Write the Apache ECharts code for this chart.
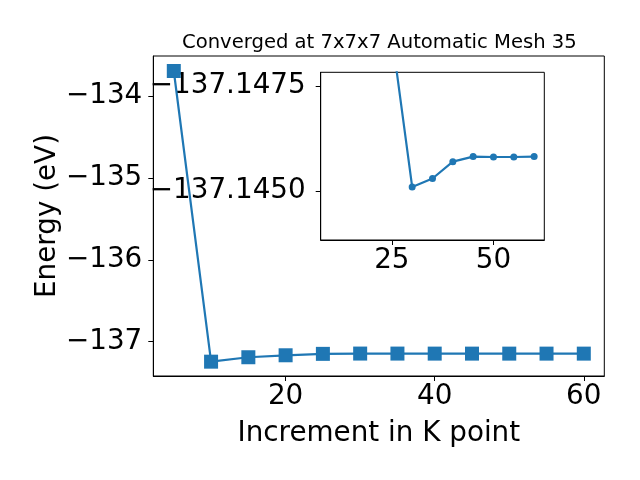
<!DOCTYPE html>
<html>
<head>
<meta charset="utf-8">
<script src="https://cdn.jsdelivr.net/npm/echarts@6/dist/echarts.min.js"></script>
<style>html,body{margin:0;padding:0;background:#fff}#c{width:640px;height:480px}</style>
</head>
<body>
<div id="c"></div>
<script>
// Data
var kpoints = [5, 10, 15, 20, 25, 30, 35, 40, 45, 50, 55, 60];
var energy = [-133.695, -137.244, -137.190, -137.166, -137.1487, -137.1451, -137.1453, -137.1457, -137.14582, -137.14581, -137.14581, -137.14582];
var insetK = [10, 15, 20, 25, 30, 35, 40, 45, 50, 55, 60];
var insetE = energy.slice(1);
var mainXTicks = [20, 40, 60];
var mainYTicks = [-137, -136, -135, -134];
var insetXTicks = [25, 50];
var insetYTicks = [-137.1475, -137.1450];
var titleText = 'Converged at 7x7x7 Automatic Mesh 35';

var FONT = 'DejaVu Sans';
var BLUE = '#1f77b4';
function minus(s) { return String(s).replace('-', '\u2212'); }
function pairs(xs, ys) { return xs.map(function (x, i) { return [x, ys[i]]; }); }

var axisCommon = {
  axisLine: { show: true, onZero: false, lineStyle: { color: '#000', width: 1 } },
  splitLine: { show: false },
};

var chart = echarts.init(document.getElementById('c'), null, { renderer: 'canvas' });
chart.setOption({
  animation: false,
  backgroundColor: '#fff',
  title: {
    text: titleText, left: 177, top: 28,
    textStyle: { fontFamily: FONT, fontSize: 19.6, fontWeight: 'normal', color: '#000' }
  },
  grid: [
    { left: 153.3, top: 56, right: 35.7, bottom: 104, show: true, borderColor: '#000', borderWidth: 1, containLabel: false },
    { left: 320.7, top: 72.3, right: 95.7, bottom: 240, show: true, borderColor: '#000', borderWidth: 1, backgroundColor: '#fff', containLabel: false }
  ],
  xAxis: [
    Object.assign({}, axisCommon, {
      gridIndex: 0, type: 'value', min: 2.25, max: 62.75,
      name: 'Increment in K point', nameLocation: 'middle', nameGap: 44, nameMoveOverlap: false,
      nameTextStyle: { fontFamily: FONT, fontSize: 27.8, color: '#000' },
      axisTick: { show: true, inside: false, length: 5, customValues: mainXTicks, lineStyle: { color: '#000' } },
      axisLabel: { show: true, margin: 7, customValues: mainXTicks, fontFamily: FONT, fontSize: 27.8, color: '#000', formatter: minus }
    }),
    Object.assign({}, axisCommon, {
      gridIndex: 1, type: 'value', min: 7.5, max: 62.5,
      axisTick: { show: true, inside: false, length: 5, customValues: insetXTicks, lineStyle: { color: '#000' } },
      axisLabel: { show: true, margin: 7, customValues: insetXTicks, fontFamily: FONT, fontSize: 27.8, color: '#000', formatter: minus }
    })
  ],
  yAxis: [
    Object.assign({}, axisCommon, {
      gridIndex: 0, type: 'value', min: -137.419, max: -133.512,
      name: 'Energy (eV)', nameLocation: 'middle', nameGap: 92, nameMoveOverlap: false,
      nameTextStyle: { fontFamily: FONT, fontSize: 27.8, color: '#000' },
      axisTick: { show: true, inside: false, length: 5, customValues: mainYTicks, lineStyle: { color: '#000' } },
      axisLabel: { show: true, margin: 11, customValues: mainYTicks, fontFamily: FONT, fontSize: 27.8, color: '#000', formatter: minus }
    }),
    Object.assign({}, axisCommon, {
      gridIndex: 1, type: 'value', inverse: true, min: -137.14782, max: -137.14384,
      axisTick: { show: true, inside: false, length: 5, customValues: insetYTicks, lineStyle: { color: '#000' } },
      axisLabel: { show: true, margin: 15, customValues: insetYTicks, fontFamily: FONT, fontSize: 27.8, color: '#000',
        formatter: function (v) { return minus(Number(v).toFixed(4)); } }
    })
  ],
  series: [
    {
      type: 'line', xAxisIndex: 0, yAxisIndex: 0, data: pairs(kpoints, energy),
      symbol: 'rect', symbolSize: 14, showAllSymbol: true,
      lineStyle: { color: BLUE, width: 2.2 }, itemStyle: { color: BLUE }, clip: true
    },
    {
      type: 'line', xAxisIndex: 1, yAxisIndex: 1, data: pairs(insetK, insetE),
      symbol: 'circle', symbolSize: 7, showAllSymbol: true,
      lineStyle: { color: BLUE, width: 2.2 }, itemStyle: { color: BLUE }, clip: true
    }
  ]
});
</script>
</body>
</html>
